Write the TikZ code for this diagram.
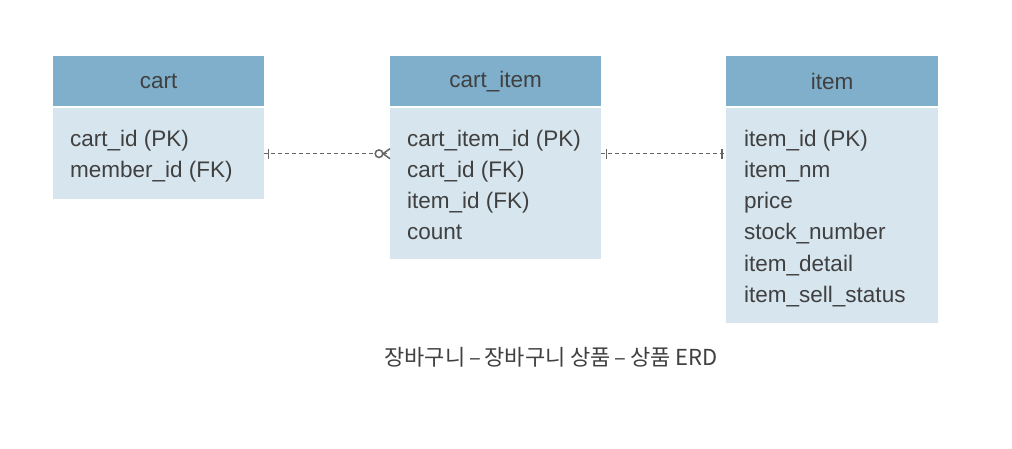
\documentclass[tikz,border=0pt]{standalone}
\usepackage{fontspec}
\setmainfont{Liberation Sans}
\newfontfamily\kr{Noto Sans CJK KR}
\definecolor{headc}{HTML}{7FAFCB}
\definecolor{bodyc}{HTML}{D6E5EE}
\definecolor{txtc}{HTML}{404040}
\definecolor{linec}{HTML}{666666}
\begin{document}
\begin{tikzpicture}[x=1pt,y=-1pt,
  head/.style={rectangle,fill=headc,draw=none,anchor=north west,minimum height=50pt,inner sep=0pt,
    text=txtc,font=\fontsize{22.5}{26}\selectfont},
  body/.style={rectangle,fill=bodyc,draw=none,anchor=north west,inner sep=0pt},
  field/.style={anchor=base west,inner sep=0pt,text=txtc,font=\fontsize{22.5}{26}\selectfont},
  conn/.style={draw=linec,line width=1.3pt,dash pattern=on 4pt off 3pt},
  mk/.style={draw=linec,line width=1.5pt}]
\useasboundingbox (0,0) rectangle (1012,449);
\fill[white] (0,0) rectangle (1012,449);
% cart
\node[head,minimum width=211pt] (cartH) at (53,56) {cart};
\node[body,minimum width=211pt,minimum height=91pt] (cartB) at (53,108) {};
\foreach \t [count=\i] in {cart\_id (PK),member\_id (FK)}
  \node[field] (cartF\i) at (70,{147+31*(\i-1)}) {\t};
% cart_item
\node[head,minimum width=211pt] (ciH) at (390,56) {cart\_item};
\node[body,minimum width=211pt,minimum height=151pt] (ciB) at (390,108) {};
\foreach \t [count=\i] in {cart\_item\_id (PK),cart\_id (FK),item\_id (FK),count}
  \node[field] (ciF\i) at (407,{147+31*(\i-1)}) {\t};
% item
\node[head,minimum width=212pt] (itH) at (726,56) {item};
\node[body,minimum width=212pt,minimum height=215pt] (itB) at (726,108) {};
\foreach \t [count=\i] in {item\_id (PK),item\_nm,price,stock\_number,item\_detail,item\_sell\_status}
  \node[field] (itF\i) at (744,{147+31*(\i-1)}) {\t};
% connectors
\coordinate (a1) at (cartB.east);
\coordinate (a2) at (cartB.east -| ciB.west);
\draw[conn] (a1) -- (a2);
\draw[mk] ([xshift=4pt,yshift=-5pt]a1) -- ([xshift=4pt,yshift=5pt]a1);
\draw[mk,fill=white] ([xshift=-11pt]a2) circle (3.8pt);
\draw[mk] ([xshift=-7pt]a2) -- ([xshift=0pt,yshift=-5pt]a2);
\draw[mk] ([xshift=-7pt]a2) -- ([xshift=0pt,yshift=5pt]a2);
\coordinate (b1) at (cartB.east -| ciB.east);
\coordinate (b2) at (cartB.east -| itB.west);
\draw[conn] (b1) -- (b2);
\draw[mk] ([xshift=5pt,yshift=-5pt]b1) -- ([xshift=5pt,yshift=5pt]b1);
\draw[mk,line width=2.5pt] ([xshift=-4pt,yshift=-5pt]b2) -- ([xshift=-4pt,yshift=5pt]b2);
% caption
\node[text=txtc,font=\kr\fontsize{22}{26}\selectfont] (cap) at (551,357) {장바구니{\,}–{\,}장바구니 상품{\,}–{\,}상품 ERD};
\end{tikzpicture}
\end{document}
